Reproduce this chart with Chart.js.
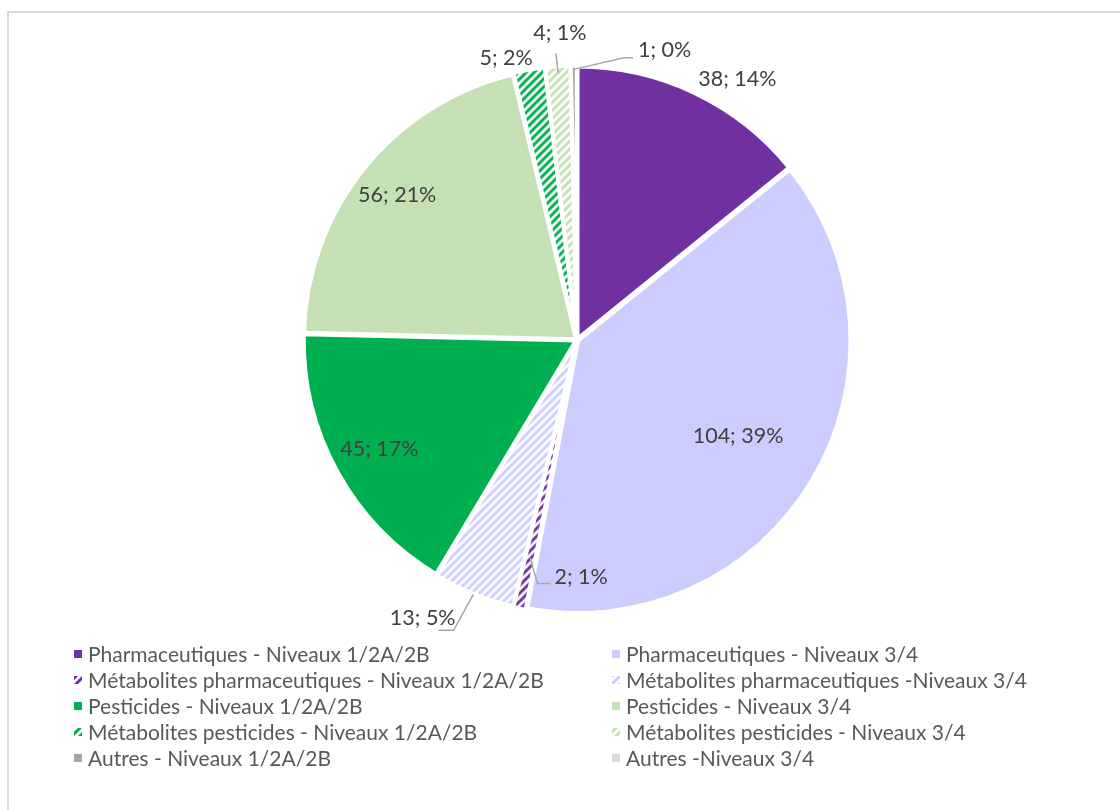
<!DOCTYPE html>
<html>
<head>
<meta charset="utf-8">
<script src="https://cdn.jsdelivr.net/npm/chart.js@4/dist/chart.umd.min.js"></script>
<style>
  body { margin: 0; background: #fff; }
  #wrap { position: relative; width: 1120px; height: 810px; overflow: hidden; }
  #frame { position: absolute; left: 7px; top: 11px; width: 1200px; height: 900px;
           border-left: 2px solid #d9d9d9; border-top: 2px solid #d9d9d9; }
  canvas { position: absolute; left: 0; top: 0; }
</style>
</head>
<body>
<div id="wrap">
  <div id="frame"></div>
  <canvas id="graph" width="1120" height="810"></canvas>
</div>
<script>
const categories = [
    'Pharmaceutiques - Niveaux 1/2A/2B',
    'Pharmaceutiques - Niveaux 3/4',
    'Métabolites pharmaceutiques - Niveaux 1/2A/2B',
    'Métabolites pharmaceutiques -Niveaux 3/4',
    'Pesticides - Niveaux 1/2A/2B',
    'Pesticides - Niveaux 3/4',
    'Métabolites pesticides - Niveaux 1/2A/2B',
    'Métabolites pesticides - Niveaux 3/4',
    'Autres - Niveaux 1/2A/2B',
    'Autres -Niveaux 3/4'
]
const values = [38, 104, 2, 13, 45, 56, 5, 4, 1, 0]

// colour + whether the slice is hatched
const baseColors = ['#7030a0', '#ccccff', '#7030a0', '#ccccff', '#00b050', '#c5e0b4', '#00b050', '#c5e0b4', '#a6a6a6', '#d9d9d9']
const hatched = [false, false, true, true, false, false, true, true, false, false]

// where each label sits: angle (deg from top, null = middle of slice), distance as part of radius
const labelPlace = [
    { angle: 31.6, r: 1.125 },
    { angle: null, r: 0.69 },
    { angle: 179, r: 0.87, leader: { r0: 0.82, pts: [[-1, -17, 7], [-1, -4, 7]] } },
    { angle: 209, r: 1.17, leader: { r0: 1.01, pts: [[1, -2, 12], [1, -17, 12]] } },
    { angle: null, r: 0.83 },
    { angle: null, r: 0.85 },
    { angle: 345.9, r: 1.07 },
    { angle: 356.8, r: 1.13, leader: { r0: 0.985, pts: [[0, -4, 20]] } },
    { angle: 16.8, r: 1.115, leader: { r0: 0.995, pts: [[-1, -14, 8], [-1, -5, 8]] } },
    null
]

function stripes(color) {
    const c = document.createElement('canvas')
    c.width = 8
    c.height = 8
    const g = c.getContext('2d')
    g.fillStyle = '#fff'
    g.fillRect(0, 0, 8, 8)
    g.strokeStyle = color
    g.lineWidth = 3
    g.beginPath()
    g.moveTo(-2, 10); g.lineTo(10, -2)
    g.moveTo(-6, 6); g.lineTo(6, -6)
    g.moveTo(2, 14); g.lineTo(14, 2)
    g.stroke()
    return g.createPattern(c, 'repeat')
}

const fills = baseColors.map((col, i) => hatched[i] ? stripes(col) : col)

const sliceLabels = {
    id: 'sliceLabels',
    afterDatasetsDraw(chart) {
        const ctx = chart.ctx
        const arcs = chart.getDatasetMeta(0).data
        const total = values.reduce((a, b) => a + b, 0)
        ctx.save()
        ctx.font = '21.5px Lato'
        ctx.textAlign = 'center'
        ctx.textBaseline = 'middle'
        arcs.forEach((arc, i) => {
            const place = labelPlace[i]
            if (!place || values[i] === 0) return
            const p = arc.getProps(['x', 'y', 'startAngle', 'endAngle', 'outerRadius'], true)
            const mid = (p.startAngle + p.endAngle) / 2
            const a = place.angle === null ? mid : (place.angle - 90) * Math.PI / 180
            const lx = p.x + Math.cos(a) * p.outerRadius * place.r
            const ly = p.y + Math.sin(a) * p.outerRadius * place.r
            const text = values[i] + '; ' + Math.round(values[i] / total * 100) + '%'
            const hw = ctx.measureText(text).width / 2
            if (place.leader) {
                const L = place.leader
                ctx.strokeStyle = '#a6a6a6'
                ctx.lineWidth = 1.5
                ctx.beginPath()
                ctx.moveTo(p.x + Math.cos(mid) * p.outerRadius * L.r0, p.y + Math.sin(mid) * p.outerRadius * L.r0)
                L.pts.forEach(q => ctx.lineTo(lx + q[0] * hw + q[1], ly + q[2]))
                ctx.stroke()
            }
            ctx.fillStyle = '#404040'
            ctx.fillText(text, lx, ly)
        })
        ctx.restore()
    }
}

const twoColLegend = {
    id: 'twoColLegend',
    afterDraw(chart) {
        const ctx = chart.ctx
        ctx.save()
        ctx.font = '21px Lato'
        ctx.textBaseline = 'middle'
        categories.forEach((name, i) => {
            const x = i % 2 ? 612 : 74
            const y = 654 + Math.floor(i / 2) * 26
            ctx.fillStyle = fills[i]
            ctx.fillRect(x, y - 4, 8, 8)
            ctx.fillStyle = '#595959'
            ctx.fillText(name, x + 14, y + 1)
        })
        ctx.restore()
    }
}

let ctx = document.getElementById('graph').getContext('2d')
new Chart(ctx, {
    type: 'pie',
    data: {
        labels: categories,
        datasets: [{
            data: values,
            backgroundColor: fills,
            borderColor: '#ffffff',
            borderWidth: 4,
            offset: 5
        }]
    },
    options: {
        responsive: false,
        animation: false,
        radius: 272,
        layout: { padding: { left: 34, right: 0, top: 0, bottom: 130 } },
        plugins: {
            legend: { display: false },
            tooltip: { enabled: false }
        }
    },
    plugins: [sliceLabels, twoColLegend]
});
</script>
</body>
</html>
